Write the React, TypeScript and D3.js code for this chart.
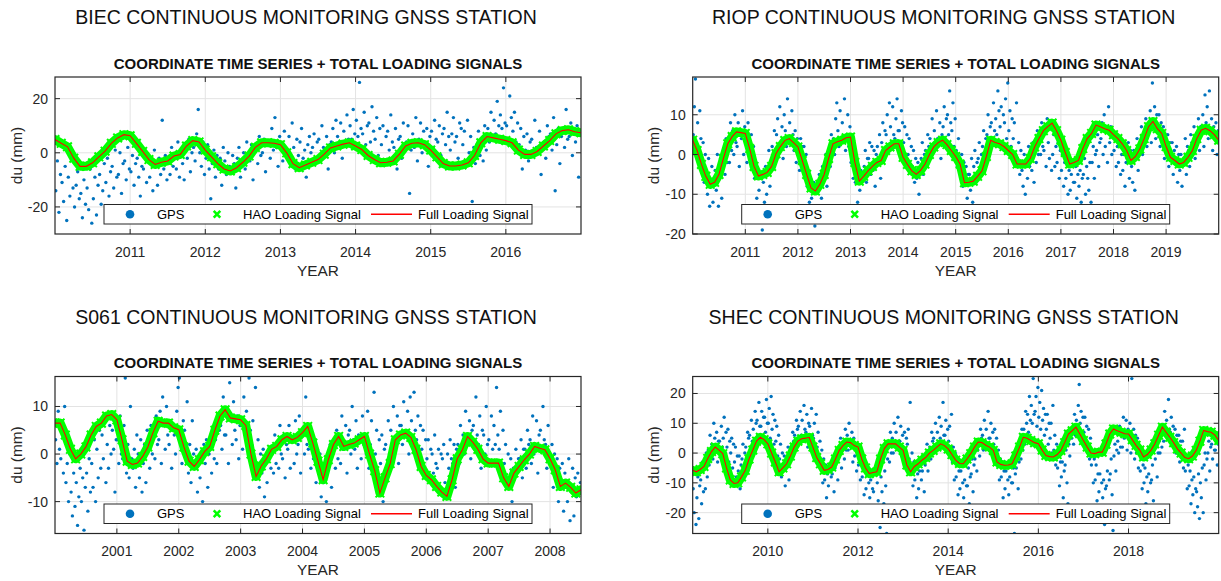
import React from 'react';
import * as d3 from 'd3';

// ---- data (du in mm) ----
// loading signal: monthly samples from the start year
const biecSignal = [
  4.9, 3.5, 2.2, -2, -5, -5, -3.7, -1.5, 0.6, 3.5, 5.5, 6.7,
  6.3, 3.5, 0.5, -2.5, -4.3, -3.5, -3, -1.2, -0.6, 2.5, 4.5, 4,
  1, -1.5, -4, -6, -6.7, -5.5, -3.5, -1.2, 2, 3.7, 3.7, 3.5,
  3, 0, -4, -5.5, -4.5, -3.5, -2.5, -0.5, 1.8, 2.5, 3.2, 3.7,
  2.5, 1.2, -1, -2.5, -3.7, -3.5, -3, -0.5, 2.5, 3.5, 3.7, 3,
  1, -1.5, -4, -4.9, -4.9, -4.5, -3.7, -1, 3.7, 6, 5.5, 5,
  4.5, 3.7, 1, -0.6, -0.6, 0.5, 2.5, 4.5, 7, 8.2, 8.5, 7.8,
  7.4,
];
// GPS: four samples per month
const biecGps = [
  -14, -3, -22, -8, -11, -18, -5, -25, -9, -16, -2, -13, -20, -12, -7, -17, -15, -24, -10, -19, -13, -21, -6, -26,
  -17, -9, -23, -12, -8, -19, -14, -4, -11, -2, -16, -7, -5, -13, 1, -9, -8, 0, -15, -4, -3, -10, 2, -6,
  -7, -1, -12, -4, -2, -9, -16, -5, -6, 0, -11, -3, -9, -4, -14, 1, -5, -12, -2, -8, 12, -6, -1, -10,
  -3, -8, 2, -5, -1, -6, 4, -9, 1, -4, -10, 3, -2, 5, -7, 0, 2, -3, 7, 16, 0, -5, 4, -8,
  -2, 3, -6, -17, -4, 1, -9, -1, -6, -2, -12, 2, -3, -8, 0, -5, -7, -1, -4, -13, -2, 2, -9, -5,
  0, -6, 4, -2, -3, 3, -10, 1, 2, -4, 6, -1, 0, 5, -7, 3, 4, -2, 9, 1, 13, 2, -5, 6,
  3, -3, 8, 1, 0, 6, -4, 11, 2, -6, 5, -1, 4, 9, -2, 1, -9, 3, 6, 0, 2, 7, -3, 4,
  5, -1, 10, 2, 1, 6, -6, 3, 4, 9, 0, 12, 6, 2, 11, -2, 8, 3, 14, 5, 10, 5, 16, 7,
  12, 6, 26, 9, 7, 15, 3, 10, 11, 4, 17, 8, 5, 13, -1, 9, 3, 10, -4, 6, 8, 1, 14, 4,
  2, 9, -6, 5, 6, -2, 11, 3, 4, 10, -15, 1, 7, 2, 13, -3, 5, 11, 0, 8, 3, 9, -5, 6,
  8, 2, 12, 5, 4, 10, -1, 7, 9, 3, 15, 6, 1, 7, 13, 4, 6, -2, 11, 9, 3, 8, -5, 12,
  0, 6, -18, 2, -4, 3, 8, -1, 5, -3, 10, 1, 9, 4, 15, 6, 12, 7, 19, 10, 14, 9, 24, 11,
  10, 5, 21, 13, 8, 15, 4, 11, 3, 9, -6, 6, 1, 7, -3, 4, 5, -1, 12, 2, 0, 8, -8, 3,
  4, -2, 10, 6, 7, 1, 13, -14, 3, 9, -4, 6, 8, 2, 16, 5, 6, 11, -1, 9, 4, 10, -9, 7,
];

const riopSignal = [
  3.6, 1, -2.5, -5.5, -7.5, -7, -5, -1, 2.7, 4.5, 5.7, 5.5,
  5.3, 1.5, -3, -5.4, -5, -4.5, -3, 0.2, 2, 3.5, 4, 3,
  1.9, -1.5, -5, -8.4, -9.2, -7.5, -5, -1, 2.7, 3.2, 3.6, 4.2,
  4.4, -2, -6.7, -5.5, -4.1, -3, -2, -1.5, 1, 1.9, 2.7, 2.7,
  -0.7, -2.5, -4.1, -5, -4, -2.4, 0, 1.9, 3, 3.6, 2.5, 1,
  -0.5, -2.4, -7.1, -7, -6.7, -5.5, -4.1, -0.5, 3.6, 3, 2.7, 2,
  1, 0, -2.4, -2.4, -2.4, -1, 1.9, 4, 6, 7, 7.9, 6,
  3.6, 0.5, -2.4, -2, -1.5, 1.5, 4, 5.3, 7.4, 7, 6.5, 6.1,
  5, 4, 2.7, 1, -1.5, -0.5, 1.4, 4, 7, 8.3, 6.5, 5.3,
  2, -0.7, -1.5, -2.4, -2, -0.7, 1, 4, 6.1, 6.6, 6, 5,
  3.6,
];
const riopGps = [
  5, 12, 19, 2, 8, 1, 11, 4, -2, 3, -7, 0, -5, -10, -1, -13, -8, -3, -12, -6, -4, -9, 0, -13,
  -6, -1, -11, -3, 0, -5, 4, -2, 3, -2, 8, 1, 6, 0, 10, 3, 2, 8, -3, 5, 4, 11, 0, 7,
  3, -2, 8, 1, 0, 5, -3, 2, -6, -2, -11, -4, -9, -15, -5, -19, -7, -12, -3, -10, -4, 1, -8, -2,
  2, -3, 6, 0, 5, 9, 1, 12, 3, 7, -1, 10, 6, 2, 14, 4, 8, 3, 11, 5, 1, 6, -2, 4,
  0, -4, 4, 2, -3, 2, -6, 0, -8, -4, -12, -6, -11, -15, -7, -18, -13, -9, -16, -5, -7, -11, -3, -14,
  -4, 0, -8, -2, 1, -3, 5, 3, 4, 0, 9, 13, 6, 2, 11, 3, 8, 4, 14, 1, 5, 10, 2, 7,
  -2, 3, -6, 0, -7, -3, -12, -5, -9, -4, -13, -6, -3, 1, -7, -1, -1, 3, -5, 2, -4, 1, -8, 0,
  2, -2, 5, -6, 3, 8, 0, 6, 5, 10, 2, 13, 7, 3, 12, 5, 4, 9, 14, 6, 6, 2, 11, 8,
  3, 7, -1, 5, 0, 4, -4, 2, -3, 1, -7, -1, -6, -2, -10, -4, -1, 3, -5, 0, 1, -3, 5, 2,
  4, 0, 9, 2, 6, 2, 11, 4, 3, 8, -1, 5, 7, 12, 3, 9, 10, 5, 16, 8, 6, 13, 2, 9,
  1, -3, 4, -1, -4, 0, -8, -2, -7, -3, -11, -5, -5, -9, -1, -12, -3, 1, -7, -2, -1, 3, -5, 0,
  2, 6, -2, 4, 5, 10, 1, 7, 8, 4, 13, 6, 9, 5, 16, 11, 7, 12, 3, 10, 8, 14, 4, 18,
  6, 11, 2, 9, 4, 8, 0, 13, -1, 3, -5, 1, -4, -8, 0, -10, -2, -6, 2, -3, 0, -4, 3, -7,
  2, -2, 6, 0, 4, 0, 8, 2, 1, 6, -3, 9, 3, -1, 7, -4, 0, 5, -3, 2, -2, 3, -6, 1,
  -4, 0, -8, -2, -6, -2, -10, -4, -9, -5, -13, -7, -7, -3, -11, -5, -8, -4, -12, -6, -5, -1, -10, -3,
  -6, -9, -2, -12, -2, 2, -6, 0, 1, 5, -3, 3, 4, 8, 0, 10, 2, 6, -2, 12, 3, 7, 0, 5,
  1, 4, -3, 2, -2, 2, -5, 0, -4, 0, -8, -2, -1, 3, -6, 1, -3, -7, 1, -9, 0, 4, -4, 2,
  3, 7, 0, 5, 5, 9, 2, 7, 7, 11, 3, 18, 8, 12, 4, 10, 6, 10, 2, 8, 3, 7, -1, 5,
  1, 5, -3, 3, -1, 3, -5, 1, -2, 2, -7, 0, -4, 0, -8, -2, -1, 4, -5, 2, 1, -3, 5, 3,
  3, 7, -1, 5, 5, 9, 1, 7, 6, 10, 2, 15, 8, 12, 4, 16, 5, 9, 1, 7, 4, 8, 0, 6,
];

const s061Signal = [
  6.5, 6.5, 4, 1, -1, 0, 1.5, 4, 5.8, 6.5, 8, 8.3,
  7.2, 3, -1.5, -2.2, -1.9, -0.5, 1.5, 4.5, 6.9, 6.5, 6.5, 5.5,
  5.1, 1.5, -1.5, -2.6, -1.2, 0.5, 1.6, 5, 8, 9.3, 7.6, 7.4,
  7.2, 6, 0, -4.7, -2.5, -1, 1, 1.6, 3, 3.7, 3, 3.5,
  4.5, 5.8, 2.3, -1.5, -5.4, -1.2, 2, 3.7, 1.6, 2, 2.3, 3,
  3.7, 0, -3.5, -8.2, -5, -2, 3, 4, 4.4, 3.5, 1, -2.6,
  -4.5, -5.4, -6.8, -8, -8.9, -5.4, -1, 0.9, 3.7, 2.5, 1, -1,
  -1.9, -1.9, -1.9, -5, -6.8, -4, -2.6, -1.2, 0, 1.6, 1.2, 0.9,
  -1, -3.3, -6.8, -6.1, -7, -8.2, -7.5,
];
const s061Gps = [
  3, -2, 9, 1, -1, 5, -4, 10, -6, -2, -10, 0, -8, -13, -4, -11, -6, -15, -9, -3, -10, -5, -16, -7,
  -4, -12, -1, -8, -2, -7, 3, -10, 1, -5, 5, -3, 4, -1, 8, -6, 2, -3, 6, 0, 5, 1, -8, 3,
  3, -2, 8, 0, -1, 6, 16, -4, 2, -5, 10, -1, -3, 1, -7, 4, 0, -5, 3, -8, -2, 2, -6, 5,
  1, -3, 6, 0, 4, -1, 8, 2, 3, 9, -2, 12, 6, 1, 10, 4, 2, 7, -3, 5, 4, 0, 9, 14,
  16, 3, -2, 7, 5, 0, 11, -4, 2, -6, 7, 0, -3, 1, -8, -1, -5, -1, -10, 2, -2, 3, -7, 0,
  1, -4, 5, -1, 3, -2, 8, 5, 6, 1, 12, 4, 4, 9, -2, 15, 7, 2, 11, 5, 3, 8, -1, 6,
  6, 1, 12, 4, 9, 3, 16, 5, 2, 7, -3, 14, -2, 3, -7, 0, -4, 1, -9, -1, -6, -1, -12, -3,
  0, -4, 4, -2, 2, -3, 6, 0, -1, 4, -5, 2, 1, 6, -3, 3, 3, -2, 7, 0, 2, 8, -4, 5,
  4, 0, 12, 2, 1, 6, -3, 3, -1, 3, -6, 1, -4, 0, -9, -2, -6, -2, -10, -3, -2, 2, -7, 0,
  1, -3, 5, -1, 3, -2, 8, 1, 2, 6, -4, 4, 5, 0, 10, 3, 1, 7, -3, 4, 3, -1, 8, 2,
  4, 0, 9, -3, 2, 7, -4, 13, 0, 5, -6, 3, -2, 4, -10, 1, 2, -3, 7, 0, 5, 1, 10, 3,
  3, 8, -2, 6, 6, 2, 11, 4, 4, 9, 0, 12, 7, 2, 13, 5, 3, 8, -1, 6, 1, 5, -4, 3,
  -1, 3, -5, 1, 0, -4, 4, -2, -3, 1, -8, 0, -1, 2, -6, -12, 0, -3, 3, -1, -2, 2, -7, 1,
  2, -2, 6, 0, 4, 0, 9, 2, 3, 7, -1, 5, 6, 1, 12, 4, 2, 8, -3, 5, 4, 0, 10, 2,
  3, -2, 8, 1, 6, 2, 14, 4, 1, 9, -3, 5, -2, 2, -7, 0, -5, -1, -10, -3, -3, 1, -12, -1,
  -1, 3, -5, 1, 1, -3, 5, 2, 3, -2, 8, 0, 2, 7, -4, 4, 5, 1, 10, 3, 2, -3, 6, 0,
  -2, 2, -7, 0, -5, -1, -10, -3, -7, -2, -12, -4, -6, -10, -1, -14, -8, -3, -13, -5, -9, -4, -17, -6,
];

const shecSignal = [
  -5.8, -6.3, -5.5, -4.5, -1.8, 0.5, 2, 1,
  -0.2, -5, -9, -10.2, -10, -8, -5.8, -2, 1, 4, 5.3, 4.5,
  3.1, 0, -3, -6.3, -5, -3.6, -1, 2, 4, 4.8, 5, 5.3,
  2, -1.5, -3.6, -5.8, -5.5, -4.7, -2, 0.9, 2.5, 3.7, 3.5, 2.5,
  2, -2, -5, -6.9, -6.5, -6.3, -2, 1.5, 3.1, 3.1, 3.1, 2,
  0.9, -4, -6.3, -4.5, -3.6, -2.4, -1.5, 0, 0.9, 2, 3.1, 2.5,
  1.4, -0.5, -2.4, -3.5, -3.6, -2, -0.2, 2, 3.7, 3.5, 2.6, 2,
  0.9, -3, -3.8, -4.1, -4, -3.6, -1, 2, 5.3, 5, 4.2, 3.5,
  3.1, 1, -0.8, -1.2, -1.3, -0.5, 0.9, 3.5, 6.4, 7.5, 8.7, 6.5,
  4.2, 2, 0, -0.2, 0.3, 0.3, 3, 6.4, 8.1, 7.5, 7, 6.5,
  6.4, 4.5, 2.6, 1, -1.3, -0.5, 1, 3.1, 6, 8.7, 7, 5.3,
  3.5, 1.4, 0, -1.5, -1.9, -1, 0.9, 4, 7.6, 7.2, 7, 6,
  4.2,
];
const shecGps = [
  -12, -20, -6, -24, -15, -8, -22, -11, -9, -17, -3, -13, -5, -12, 0, -8, 1, -4, 6, -1, 3, -2, 10, 5, 2, 7, -3, 4, 4, 0, 9, 2,
  5, 12, 0, 7, 2, 8, -3, 4, 0, 5, -5, 3, -3, 2, -8, -1, -6, -1, -12, -4, -2, 3, -7, 0,
  2, -3, 7, 5, 6, 1, 11, 4, 8, 3, 14, 10, 11, 6, 17, 9, 9, 14, 4, 12, 12, 7, 18, 10,
  10, 15, 5, 19, 8, 13, 3, 11, 4, 9, -1, 6, -2, 3, -8, 0, -5, -1, -11, -3, -3, 2, -9, 0,
  2, -2, 7, 4, 6, 1, 11, 8, 9, 4, 14, 6, 11, 5, 16, 8, 7, 13, 2, 10, 9, 4, 15, 6,
  5, 10, 0, 13, 2, 7, -3, 4, -4, 1, -10, -2, -9, -4, -15, -7, -11, -6, -18, -8, -7, -2, -13, -5,
  -3, 1, -9, -1, 0, 5, -5, 2, 3, -2, 8, 1, 6, 1, 10, 4, 2, 7, -3, 5, -1, 3, -6, 1,
  -4, 0, -9, -2, -8, -3, -14, -6, -12, -7, -18, -10, -15, -9, -21, -12, -13, -18, -7, -22, -10, -16, -5, -25,
  -8, -13, -3, -17, -6, -11, -27, -2, 2, -3, 7, 0, 5, 0, 10, 3, 7, 2, 12, 4, 4, 9, -1, 6,
  2, 7, -3, 5, 3, 8, -2, 17, -5, 0, -11, -3, -9, -4, -15, -7, -12, -6, -19, -9, -6, -1, -13, -4,
  -1, 3, -6, 1, 2, -2, 7, 4, 5, 1, 10, 3, 7, 2, 12, 5, 9, 4, 17, 6, 6, 11, 2, 8,
  4, 9, 0, 13, -3, 2, -9, 0, -8, -3, -14, -6, -12, -6, -18, -10, -15, -9, -21, -11, -11, -5, -17, -8,
  -7, -2, -13, -4, -2, 3, -6, 1, 3, -1, 8, 5, 6, 1, 11, 4, 8, 3, 14, 5, 5, 10, 0, 7,
  3, 8, -2, 5, -4, 1, -9, -2, -8, -3, -15, -6, -12, -6, -19, -9, -14, -8, -22, -10, -10, -5, -27, -7,
  -5, -1, -12, -3, 3, -2, 8, 1, 8, 3, 14, 10, 13, 7, 19, 11, 16, 10, 25, 13, 14, 19, 9, 22,
  12, 17, 8, 21, 11, 15, 6, 13, 8, 13, 3, 10, 5, 10, 0, 16, 1, 6, -4, 3, -5, 0, -11, -3,
  -8, -3, -15, -6, -4, 1, -10, -17, 3, -1, 8, 5, 8, 3, 13, 6, 11, 6, 16, 23, 10, 14, 5, 12,
  7, 12, 2, 9, 3, 8, -2, 5, -4, 1, -10, -2, -9, -4, -16, -7, -13, -7, -20, -10, -15, -9, -24, -12,
  -11, -6, -18, -9, -7, -2, -14, -26, -1, 3, -6, 1, 4, 0, 9, 2, 7, 2, 12, 5, 6, 11, 1, 8,
  5, 10, 0, 25, 3, 8, -2, 6, 0, 5, -5, 2, -6, -2, -12, -4, -10, -5, -17, -8, -13, -7, -20, -10,
  -9, -4, -16, -22, -2, 2, -8, 0, 4, 0, 9, 2, 9, 4, 14, 7, 11, 6, 18, 8, 7, 12, 3, 9,
  4, 8, 0, 6, 2, 6, -3, 4, 0, 4, -5, 8, -6, -2, -12, -4, -11, -6, -17, -9, -14, -8, -20, -12,
  -13, -18, -7, -22, -10, -15, -5, -20, -4, 0, -9, -2, 0, 4, -6, 2, 3, -2, 7, 1, 1, 5, -4, 3,
];

const stations = ['BIEC', 'RIOP', 'S061', 'SHEC'];
const yearRanges = [[2010, 2017], [2010, 2020], [2000, 2008.5], [2008 + 4 / 12, 2020]];
const duRanges = [[-30, 28], [-20, 19.5], [-16.7, 16.3], [-27, 25.7]];
const yearTicks = [
  [2011, 2012, 2013, 2014, 2015, 2016],
  [2011, 2012, 2013, 2014, 2015, 2016, 2017, 2018, 2019],
  [2001, 2002, 2003, 2004, 2005, 2006, 2007, 2008],
  [2010, 2012, 2014, 2016, 2018],
];
const duTicks = [[-20, 0, 20], [-20, -10, 0, 10], [-10, 0, 10], [-20, -10, 0, 10, 20]];
const signals = [biecSignal, riopSignal, s061Signal, shecSignal];
const gpsSeries = [biecGps, riopGps, s061Gps, shecGps];

// ---- layout ----
const AX_W = 526;
const AX_H = 157;
const LEFTS = [55, 692.7];
const TOPS = [77, 376.5];
const FONT = '"Liberation Sans", Arial, Helvetica, sans-serif';
const AXIS_C = '#262626';
const GPS_C = '#0072BD';
const HAO_C = '#00FF00';
const FULL_C = '#FF0000';

const xMark = (s: number) => `M${-s},${-s}L${s},${s}M${-s},${s}L${s},${-s}`;

function Panel({ i }: { i: number }) {
  const [t0, t1] = yearRanges[i];
  const x = d3.scaleLinear().domain([t0, t1]).range([0, AX_W]);
  const y = d3.scaleLinear().domain(duRanges[i]).range([AX_H, 0]);
  const sig: [number, number][] = signals[i].map((v, k) => [t0 + k / 12, v]);
  const gps: [number, number][] = gpsSeries[i].map((v, k) => [t0 + k / 48 + 1 / 96, v]);
  const line = d3.line<[number, number]>().x(d => x(d[0])).y(d => y(d[1]));
  const path = line(sig) || '';
  const clip = `clip-${i}`;
  const tl = 5;

  const legW = 428;
  const legH = 19.5;
  const legX = AX_W / 2 - legW / 2;
  const legY = AX_H - 10 - legH;
  const legMid = legY + legH / 2;

  return (
    <g transform={`translate(${LEFTS[i % 2]},${TOPS[Math.floor(i / 2)]})`} fontFamily={FONT}>
      <text x={AX_W / 2 - 12} y={-60} textAnchor="middle" dominantBaseline="central" fontSize={19.5} fill="#111">
        {stations[i]} CONTINUOUS MONITORING GNSS STATION
      </text>
      <text x={AX_W / 2} y={-14} textAnchor="middle" dominantBaseline="central" fontSize={15} fontWeight="bold" fill="#111">
        COORDINATE TIME SERIES + TOTAL LOADING SIGNALS
      </text>
      <defs>
        <clipPath id={clip}>
          <rect width={AX_W} height={AX_H} />
        </clipPath>
      </defs>
      <rect width={AX_W} height={AX_H} fill="#fff" />
      {yearTicks[i].map(t => (
        <line key={'gx' + t} x1={x(t)} x2={x(t)} y1={0} y2={AX_H} stroke="#e3e3e3" strokeWidth={1} />
      ))}
      {duTicks[i].map(t => (
        <line key={'gy' + t} x1={0} x2={AX_W} y1={y(t)} y2={y(t)} stroke="#e3e3e3" strokeWidth={1} />
      ))}
      <g clipPath={`url(#${clip})`}>
        {gps.map((d, k) => (
          <circle key={k} cx={x(d[0])} cy={y(d[1])} r={1.7} fill={GPS_C} />
        ))}
        <path d={path} fill="none" stroke={HAO_C} strokeWidth={9} strokeLinejoin="round" strokeLinecap="round" />
        {sig.map((d, k) => (
          <path key={k} d={xMark(4.3)} transform={`translate(${x(d[0])},${y(d[1])})`} stroke={HAO_C} strokeWidth={2} />
        ))}
        <path d={path} fill="none" stroke={FULL_C} strokeWidth={1.1} />
      </g>
      {/* legend */}
      <g>
        <rect x={legX} y={legY} width={legW} height={legH} fill="#fff" stroke={AXIS_C} strokeWidth={1} />
        <circle cx={legX + 26} cy={legMid} r={4.3} fill={GPS_C} />
        <text x={legX + 53} y={legMid} dominantBaseline="central" fontSize={13} fill="#000">GPS</text>
        <path d={xMark(3.3)} transform={`translate(${legX + 113},${legMid})`} stroke={HAO_C} strokeWidth={2.6} />
        <text x={legX + 139} y={legMid} dominantBaseline="central" fontSize={13} fill="#000">HAO Loading Signal</text>
        <line x1={legX + 267} x2={legX + 308} y1={legMid} y2={legMid} stroke={FULL_C} strokeWidth={1.3} />
        <text x={legX + 314} y={legMid} dominantBaseline="central" fontSize={13} fill="#000">Full Loading Signal</text>
      </g>
      {/* box and ticks */}
      <rect width={AX_W} height={AX_H} fill="none" stroke={AXIS_C} strokeWidth={1.2} />
      {yearTicks[i].map(t => (
        <g key={'xt' + t}>
          <line x1={x(t)} x2={x(t)} y1={AX_H} y2={AX_H - tl} stroke={AXIS_C} />
          <line x1={x(t)} x2={x(t)} y1={0} y2={tl} stroke={AXIS_C} />
          <text x={x(t)} y={AX_H + 17.5} textAnchor="middle" dominantBaseline="central" fontSize={14} fill={AXIS_C}>
            {t}
          </text>
        </g>
      ))}
      {duTicks[i].map(t => (
        <g key={'yt' + t}>
          <line x1={0} x2={tl} y1={y(t)} y2={y(t)} stroke={AXIS_C} />
          <line x1={AX_W} x2={AX_W - tl} y1={y(t)} y2={y(t)} stroke={AXIS_C} />
          <text x={-7} y={y(t)} textAnchor="end" dominantBaseline="central" fontSize={14} fill={AXIS_C}>
            {t}
          </text>
        </g>
      ))}
      <text x={AX_W / 2} y={AX_H + 36} textAnchor="middle" dominantBaseline="central" fontSize={15.4} fill={AXIS_C}>
        YEAR
      </text>
      <text
        transform={`translate(-39,${AX_H / 2}) rotate(-90)`}
        textAnchor="middle"
        dominantBaseline="central"
        fontSize={15.4}
        fill={AXIS_C}
      >
        du (mm)
      </text>
    </g>
  );
}

export default function App() {
  return (
    <svg width={1221} height={581} style={{ position: 'absolute', left: 0, top: 0, background: '#fff' }}>
      <rect width={1221} height={581} fill="#fff" />
      {[0, 1, 2, 3].map(i => (
        <Panel key={i} i={i} />
      ))}
    </svg>
  );
}
